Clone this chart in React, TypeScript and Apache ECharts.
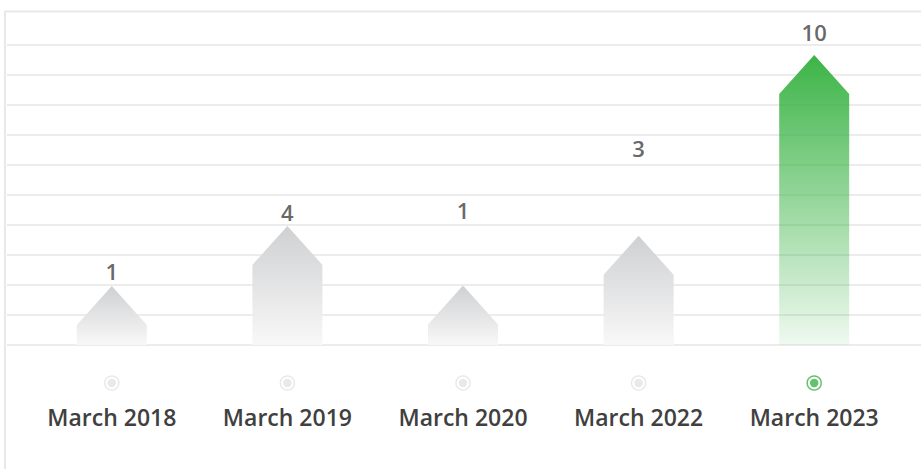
import React, { useEffect, useRef } from "react";
import * as echarts from "echarts";

const categories = ["March 2018", "March 2019", "March 2020", "March 2022", "March 2023"];
const counts = [1, 4, 1, 3, 10];
const barHeights = [1.97, 3.97, 1.98, 3.64, 9.67];
const labelLevels = [2.46, 4.43, 4.49, 6.57, 10.42];
const activeIndex = 4;

const FONT = "'Open Sans', 'Noto Sans', sans-serif";
const TEXT = "#404040";
const GRID_LINE = "#e6e6e6";

function buildOption() {
  const grayFill = {
    type: "linear", x: 0, y: 0, x2: 0, y2: 1,
    colorStops: [
      { offset: 0, color: "#cfd0d2" },
      { offset: 1, color: "#f8f8f8" },
    ],
  };
  const greenFill = {
    type: "linear", x: 0, y: 0, x2: 0, y2: 1,
    colorStops: [
      { offset: 0, color: "rgba(60,180,70,1)" },
      { offset: 1, color: "rgba(60,180,70,0.08)" },
    ],
  };

  return {
    animation: false,
    graphic: [
      {
        type: "polyline",
        shape: { points: [[5, 469], [5, 11.5], [921, 11.5]] },
        style: { stroke: "#e8e8e8", lineWidth: 2, fill: null },
        z: 0,
      },
    ],
    grid: [
      { left: 7, right: 0, top: 45, bottom: 124 },
      { left: 24, right: 19, top: 0, bottom: 124 },
      { left: 24, right: 19, top: 376, height: 14 },
    ],
    xAxis: [
      { gridIndex: 0, type: "value", show: false, min: 0, max: 1 },
      {
        gridIndex: 1, type: "category", data: categories,
        axisLine: { show: false }, axisTick: { show: false }, axisLabel: { show: false },
      },
      {
        gridIndex: 2, type: "category", data: categories,
        axisLine: { show: false }, axisTick: { show: false },
        axisLabel: {
          show: true, margin: 15, fontSize: 23, fontWeight: 600,
          fontFamily: FONT, color: TEXT,
        },
      },
    ],
    yAxis: [
      {
        gridIndex: 0, type: "value", min: 0, max: 10, interval: 1,
        axisLine: { show: false }, axisTick: { show: false }, axisLabel: { show: false },
        splitLine: { show: true, lineStyle: { color: GRID_LINE, width: 1.5 } },
      },
      {
        gridIndex: 1, type: "value", min: 0, max: 11.5,
        show: false, splitLine: { show: false },
      },
      {
        gridIndex: 2, type: "value", min: 0, max: 1,
        show: false, splitLine: { show: false },
      },
    ],
    series: [
      {
        type: "custom",
        xAxisIndex: 1, yAxisIndex: 1,
        data: barHeights.map((v, i) => [i, v]),
        renderItem: (params: any, api: any) => {
          const i = api.value(0);
          const v = api.value(1);
          const top = api.coord([i, v]);
          const base = api.coord([i, 0]);
          const half = 35;
          const tri = 39;
          return {
            type: "polygon",
            shape: {
              points: [
                [top[0] - half, base[1]],
                [top[0] - half, top[1] + tri],
                [top[0], top[1]],
                [top[0] + half, top[1] + tri],
                [top[0] + half, base[1]],
              ],
            },
            style: { fill: i === activeIndex ? greenFill : grayFill },
          };
        },
        z: 2,
      },
      {
        type: "scatter",
        xAxisIndex: 1, yAxisIndex: 1,
        symbolSize: 0,
        clip: false,
        data: labelLevels.map((v, i) => [i, v]),
        label: {
          show: true, position: "inside",
          formatter: (p: any) => String(counts[p.dataIndex]),
          fontSize: 22, fontWeight: 600, fontFamily: FONT, color: TEXT,
        },
        z: 3,
      },
      {
        type: "scatter",
        xAxisIndex: 2, yAxisIndex: 2,
        symbol: "circle", symbolSize: 14,
        data: categories.map((_, i) => ({
          value: [i, 0.5],
          itemStyle: {
            color: "#ffffff",
            borderColor: i === activeIndex ? "#3cb449" : "#e3e3e3",
            borderWidth: 1.5,
          },
        })),
        z: 3,
      },
      {
        type: "scatter",
        xAxisIndex: 2, yAxisIndex: 2,
        symbol: "circle", symbolSize: 8.5,
        data: categories.map((_, i) => ({
          value: [i, 0.5],
          itemStyle: { color: i === activeIndex ? "#3cb449" : "#e4e4e4" },
        })),
        z: 4,
      },
    ],
  };
}

export default function App() {
  const ref = useRef<HTMLDivElement | null>(null);
  useEffect(() => {
    if (!ref.current) return;
    const chart = echarts.init(ref.current, undefined, { renderer: "svg" });
    chart.setOption(buildOption() as any);
    return () => chart.dispose();
  }, []);
  return (
    <div
      ref={ref}
      style={{ position: "fixed", left: 0, top: 0, width: 921, height: 469, background: "#ffffff" }}
    />
  );
}
